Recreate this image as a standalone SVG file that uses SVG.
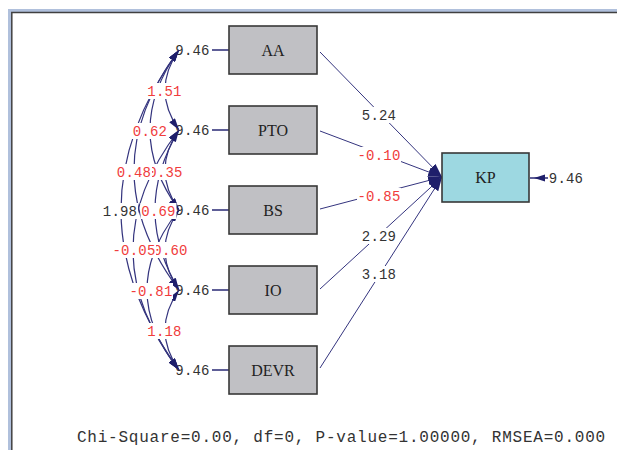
<svg xmlns="http://www.w3.org/2000/svg" width="617" height="450" viewBox="0 0 617 450">
<style>
.box{fill:#c0c0c4;stroke:#383838;stroke-width:1.6}
.kp{fill:#9dd8e1;stroke:#383838;stroke-width:1.6}
.name{font-family:"Liberation Serif","Times New Roman",serif;font-size:16px;fill:#222;text-anchor:middle}
.num{font-family:"Liberation Mono","Courier New",monospace;font-size:14px;letter-spacing:0.2px;text-anchor:middle}
.blk{fill:#333}
.red{fill:#f03c3c}
.bg{fill:#fff}
.cov{fill:none;stroke:#34347e;stroke-width:1.2;marker-start:url(#ah);marker-end:url(#ah)}
.path{fill:none;stroke:#34347e;stroke-width:1;marker-end:url(#big)}
.err{stroke:#2a2a75;stroke-width:1.5}
.fit{font-family:"Liberation Mono","Courier New",monospace;font-size:16px;letter-spacing:0.77px;fill:#333}
</style>
<defs>
<marker id="ah" viewBox="0 0 12 7" refX="12" refY="3.5" markerWidth="12" markerHeight="7" markerUnits="userSpaceOnUse" orient="auto-start-reverse">
<path d="M0,0 L12,3.5 L0,7 z" fill="#1f1f6b"/>
</marker>
<marker id="big" viewBox="0 0 14 9" refX="14" refY="4.5" markerWidth="14" markerHeight="9" markerUnits="userSpaceOnUse" orient="auto">
<path d="M0,0 L14,4.5 L0,9 z" fill="#1f1f6b"/>
</marker>
</defs>
<rect width="617" height="450" fill="#fff"/>
<g id="frame">
<rect x="8" y="9" width="609" height="4" fill="#b0c0dc"/>
<rect x="8" y="9" width="3.5" height="441" fill="#b0c0dc"/>
<path d="M11.8,450 V12.6 H617" fill="none" stroke="#404040" stroke-width="1.5"/>
</g>
<g id="variances">
<text class="num blk" x="192.5" y="55">9.46</text>
<text class="num blk" x="192.5" y="135">9.46</text>
<text class="num blk" x="192.5" y="215">9.46</text>
<text class="num blk" x="192.5" y="295">9.46</text>
<text class="num blk" x="192.5" y="375">9.46</text>
<line class="err" x1="212" y1="50" x2="229" y2="50"/>
<line class="err" x1="212" y1="130" x2="229" y2="130"/>
<line class="err" x1="212" y1="210" x2="229" y2="210"/>
<line class="err" x1="212" y1="290" x2="229" y2="290"/>
<line class="err" x1="212" y1="370" x2="229" y2="370"/>
</g>
<g id="connectors">
<path class="cov" d="M179,50 Q151,90 179,130"/>
<path class="cov" d="M179,130 Q151,170 179,210"/>
<path class="cov" d="M179,210 Q151,250 179,290"/>
<path class="cov" d="M179,290 Q151,330 179,370"/>
<path class="cov" d="M179,50 Q121,130 179,210"/>
<path class="cov" d="M179,130 Q131,210 179,290"/>
<path class="cov" d="M179,210 Q115,290 179,370"/>
<path class="cov" d="M179,50 Q89,170 179,290"/>
<path class="cov" d="M179,130 Q87,250 179,370"/>
<path class="cov" d="M179,50 Q63,210 179,370"/>
<line class="path" x1="320" y1="52" x2="442" y2="177"/>
<line class="path" x1="320" y1="131" x2="442" y2="177"/>
<line class="path" x1="320" y1="209" x2="442" y2="177"/>
<line class="path" x1="320" y1="289" x2="442" y2="177"/>
<line class="path" x1="320" y1="368" x2="442" y2="177"/>
<line class="err" x1="548" y1="178" x2="530" y2="178"/>
<polygon points="534,178 545,174.5 545,181.5" fill="#1f1f6b"/>
</g>
<g id="cov-labels">
<rect class="bg" x="147" y="83" width="36" height="16"/><text class="num red" x="164.5" y="96">1.51</text>
<rect class="bg" x="132" y="123" width="36" height="16"/><text class="num red" x="150" y="136">0.62</text>
<rect class="bg" x="147.5" y="164" width="36" height="16"/><text class="num red" x="165.5" y="177">0.35</text>
<rect class="bg" x="116" y="164" width="36" height="16"/><text class="num red" x="134" y="177">0.48</text>
<rect class="bg" x="140.5" y="203" width="36" height="16"/><text class="num red" x="158.5" y="216">0.69</text>
<rect class="bg" x="102" y="203" width="36" height="16"/><text class="num blk" x="120" y="216">1.98</text>
<rect class="bg" x="152.5" y="242" width="36" height="16"/><text class="num red" x="170.5" y="255">0.60</text>
<rect class="bg" x="112" y="242" width="44" height="16"/><text class="num red" x="134" y="255">-0.05</text>
<rect class="bg" x="129" y="283" width="44" height="16"/><text class="num red" x="151" y="296">-0.81</text>
<rect class="bg" x="146.5" y="323" width="36" height="16"/><text class="num red" x="164.5" y="336">1.18</text>
</g>
<g id="path-labels">
<rect class="bg" x="361" y="107" width="36" height="16"/><text class="num blk" x="379" y="120">5.24</text>
<rect class="bg" x="357" y="147" width="44" height="16"/><text class="num red" x="379" y="160">-0.10</text>
<rect class="bg" x="357" y="188" width="44" height="16"/><text class="num red" x="379" y="201">-0.85</text>
<rect class="bg" x="361" y="228" width="36" height="16"/><text class="num blk" x="379" y="241">2.29</text>
<rect class="bg" x="361" y="266" width="36" height="16"/><text class="num blk" x="379" y="279">3.18</text>
</g>
<g id="node-AA"><rect class="box" x="229" y="26" width="88" height="48"/><text class="name" x="273" y="56">AA</text></g>
<g id="node-PTO"><rect class="box" x="229" y="106" width="88" height="48"/><text class="name" x="273" y="136">PTO</text></g>
<g id="node-BS"><rect class="box" x="229" y="186" width="88" height="48"/><text class="name" x="273" y="216">BS</text></g>
<g id="node-IO"><rect class="box" x="229" y="266" width="88" height="48"/><text class="name" x="273" y="296">IO</text></g>
<g id="node-DEVR"><rect class="box" x="229" y="346" width="88" height="48"/><text class="name" x="273" y="376">DEVR</text></g>
<g id="node-KP"><rect class="kp" x="442" y="153" width="87" height="49"/><text class="name" x="485.5" y="183">KP</text></g>
<g id="kp-error"><text class="num blk" x="566" y="183">9.46</text></g>
<text class="fit" x="77" y="442">Chi-Square=0.00, df=0, P-value=1.00000, RMSEA=0.000</text>
</svg>
